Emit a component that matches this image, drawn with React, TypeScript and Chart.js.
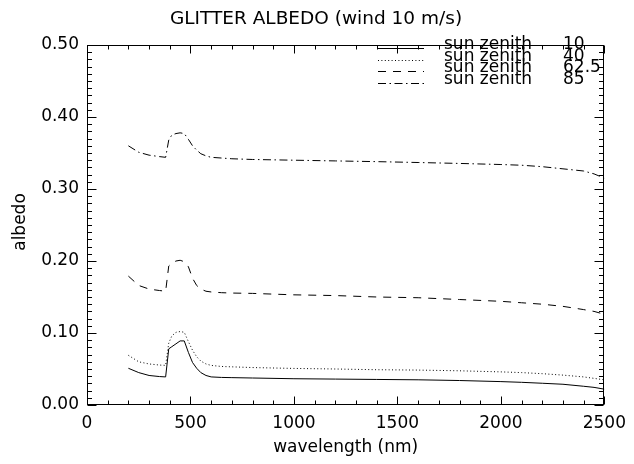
import { useEffect, useRef } from "react";
import { Chart, registerables } from "chart.js";

Chart.register(...registerables);

// Wavelength grid (nm) shared by all curves
const wavelengthNm = [
  200, 250, 300, 350, 380, 395, 410, 430, 450, 470, 490, 510, 530, 550, 575,
  600, 650, 700, 800, 1000, 1200, 1400, 1600, 1800, 2000, 2100, 2200, 2300,
  2400, 2450, 2500,
];

// Glitter albedo for each sun zenith angle
const albedoSz10 = [
  0.051, 0.045, 0.041, 0.0395, 0.039, 0.078, 0.081, 0.085, 0.089, 0.089, 0.073,
  0.059, 0.051, 0.045, 0.041, 0.039, 0.0383, 0.038, 0.0375, 0.0365, 0.036,
  0.0355, 0.035, 0.034, 0.0325, 0.0315, 0.0302, 0.0288, 0.026, 0.0245, 0.022,
];
const albedoSz40 = [
  0.069, 0.06, 0.057, 0.0555, 0.055, 0.086, 0.096, 0.101, 0.102, 0.101, 0.088,
  0.076, 0.067, 0.061, 0.057, 0.055, 0.0535, 0.053, 0.052, 0.0508, 0.05, 0.049,
  0.0485, 0.0475, 0.046, 0.045, 0.0435, 0.0415, 0.039, 0.037, 0.035,
];
const albedoSz625 = [
  0.179, 0.166, 0.161, 0.159, 0.158, 0.193, 0.197, 0.2, 0.201, 0.199, 0.192,
  0.176, 0.166, 0.161, 0.158, 0.157, 0.156, 0.1555, 0.155, 0.153, 0.152, 0.15,
  0.149, 0.1465, 0.144, 0.142, 0.14, 0.137, 0.1325, 0.13, 0.126,
];
const albedoSz85 = [
  0.36, 0.351, 0.347, 0.345, 0.344, 0.368, 0.375, 0.377, 0.378, 0.377, 0.369,
  0.36, 0.354, 0.349, 0.346, 0.344, 0.343, 0.342, 0.341, 0.34, 0.339, 0.338,
  0.3368, 0.3355, 0.334, 0.333, 0.331, 0.328, 0.325, 0.321, 0.315,
];

const seriesLabels = ["sun zenith 10", "sun zenith 40", "sun zenith 62.5", "sun zenith 85"];
const seriesDashes: number[][] = [[], [1, 2.4], [8, 7], [8, 3.5, 1.5, 3.5]];

const chartTitle = "GLITTER ALBEDO (wind 10 m/s)";
const xAxisTitle = "wavelength (nm)";
const yAxisTitle = "albedo";

const FONT = '"DejaVu Sans", sans-serif';

// Draws the plot box, inward tick marks on all four sides, titles and the legend
const framePlugin = {
  id: "frameAndLegend",
  afterDraw(chart: any) {
    const { ctx, chartArea: a, scales } = chart;
    const xs = scales.x;
    const ys = scales.y;
    ctx.save();
    ctx.strokeStyle = "#000";
    ctx.fillStyle = "#000";
    ctx.lineWidth = 1;
    ctx.setLineDash([]);

    const L = Math.round(a.left) + 0.5;
    const R = Math.round(a.right) - 0.5;
    const T = Math.round(a.top) + 0.5;
    const B = Math.round(a.bottom) - 0.5;
    ctx.strokeRect(L, T, R - L, B - T);

    ctx.beginPath();
    for (let i = 0; i <= 25; i++) {
      const px = Math.round(xs.getPixelForValue(i * 100)) + 0.5;
      const len = i % 5 === 0 ? 8 : 4;
      ctx.moveTo(px, B);
      ctx.lineTo(px, B - len);
      ctx.moveTo(px, T);
      ctx.lineTo(px, T + len);
    }
    for (let i = 0; i <= 50; i++) {
      const py = Math.round(ys.getPixelForValue(i * 0.01)) + 0.5;
      const len = i % 10 === 0 ? 9 : 4.5;
      ctx.moveTo(L, py);
      ctx.lineTo(L + len, py);
      ctx.moveTo(R, py);
      ctx.lineTo(R - len, py);
    }
    ctx.stroke();

    // Titles
    ctx.textBaseline = "middle";
    ctx.textAlign = "center";
    ctx.font = `18.5px ${FONT}`;
    ctx.fillText(chartTitle, 316, 19);
    ctx.font = `17px ${FONT}`;
    ctx.fillText(xAxisTitle, (a.left + a.right) / 2, 448);
    ctx.save();
    ctx.translate(21, 222);
    ctx.rotate(-Math.PI / 2);
    ctx.fillText(yAxisTitle, 0, 0);
    ctx.restore();

    // Legend
    ctx.textAlign = "left";
    chart.data.datasets.forEach((ds: any, i: number) => {
      const ty = 45 + i * 11.5;
      const ly = Math.round(ty + 3) + 0.5;
      ctx.setLineDash(ds.borderDash || []);
      ctx.beginPath();
      ctx.moveTo(378, ly);
      ctx.lineTo(424, ly);
      ctx.stroke();
      ctx.setLineDash([]);
      const label: string = ds.label;
      const cut = label.lastIndexOf(" ");
      ctx.fillText(label.slice(0, cut), 444, ty);
      ctx.fillText(label.slice(cut + 1), 563, ty);
    });
    ctx.restore();
  },
};

export default function App() {
  const canvasRef = useRef<HTMLCanvasElement>(null);

  useEffect(() => {
    const canvas = canvasRef.current;
    if (!canvas) return;
    const series = [albedoSz10, albedoSz40, albedoSz625, albedoSz85];
    const chart = new Chart(canvas, {
      type: "line",
      data: {
        datasets: series.map((vals, i) => ({
          label: seriesLabels[i],
          data: wavelengthNm.map((w, j) => ({ x: w, y: vals[j] })),
          borderColor: "#000",
          borderWidth: 1,
          borderDash: seriesDashes[i],
          pointRadius: 0,
          tension: 0,
          fill: false,
        })),
      },
      options: {
        responsive: false,
        animation: false,
        devicePixelRatio: 1,
        layout: { padding: { top: 45, right: 23, left: 0, bottom: 0 } },
        plugins: {
          legend: { display: false },
          title: { display: false },
          tooltip: { enabled: false },
        },
        scales: {
          x: {
            type: "linear",
            min: 0,
            max: 2500,
            grid: { display: false, drawTicks: false },
            border: { display: false },
            ticks: {
              stepSize: 500,
              padding: 8,
              color: "#000",
              font: { family: FONT, size: 17 },
              maxRotation: 0,
              callback: (v: any) => String(v),
            },
            afterFit: (s: any) => {
              s.height = 59;
            },
          },
          y: {
            type: "linear",
            min: 0,
            max: 0.5,
            grid: { display: false, drawTicks: false },
            border: { display: false },
            ticks: {
              stepSize: 0.1,
              padding: 8,
              color: "#000",
              font: { family: FONT, size: 17 },
              callback: (v: any) => Number(v).toFixed(2),
            },
            afterFit: (s: any) => {
              s.width = 87;
            },
          },
        },
      },
      plugins: [framePlugin],
    });
    return () => chart.destroy();
  }, []);

  return (
    <div style={{ position: "absolute", left: 0, top: 0, width: 634, height: 464, background: "#fff" }}>
      <canvas ref={canvasRef} width={634} height={464} />
    </div>
  );
}
